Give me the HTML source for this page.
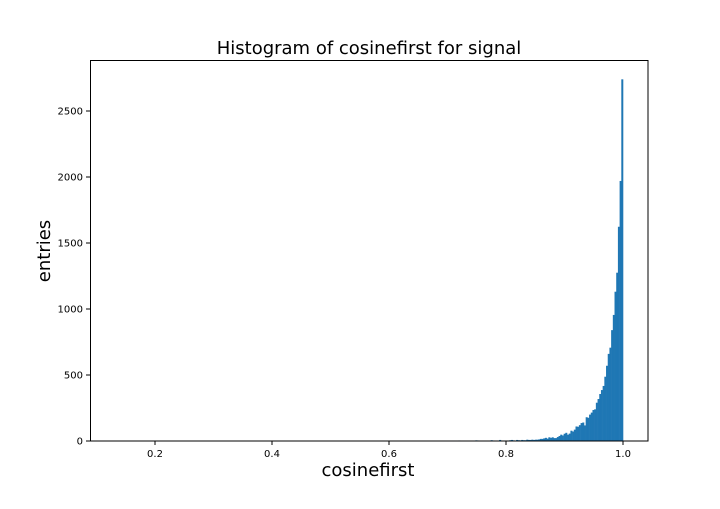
<!DOCTYPE html>
<html><head><meta charset="utf-8"><style>body{margin:0;background:#fff}svg{font-family:"DejaVu Sans","Liberation Sans",sans-serif}</style></head>
<body>
<svg id="c" width="720" height="504">
<rect width="720" height="504" fill="#fff"/>
<text x="369" y="54" text-anchor="middle" font-size="18">Histogram of cosinefirst for signal</text>
<text x="368" y="476" text-anchor="middle" font-size="18">cosinefirst</text>
<text transform="translate(50,251) rotate(-90)" text-anchor="middle" font-size="18">entries</text>
<g id="bars"></g>
<g id="ticks"></g>
<rect x="90.5" y="60.5" width="557.5" height="380.5" fill="none" stroke="#000" stroke-width="1"/>
</svg>
<script>
const binStart = 0.71;
const binWidth = 0.0029;
const counts = [0,0,3,4,0,0,0,0,0,0,0,0,0,5,4,0,0,2,0,0,0,0,6,4,0,0,3,8,0,0,3,0,0,6,8,5,0,8,6,5,8,6,6,10,8,8,10,
8,10,10,12,16,16,20,24,18,28,24,28,22,22,30,38,48,42,55,62,48,56,78,72,86,110,108,120,136,140,118,180,176,200,215,235,240,290,318,356,386,417,487,570,660,707,840,955,1131,1275,1623,1970,2740];
const xTicks = [0.2,0.4,0.6,0.8,1.0];
const xTickLabels = ["0.2","0.4","0.6","0.8","1.0"];
const yTicks = [0,500,1000,1500,2000,2500];
const yTickLabels = ["0","500","1000","1500","2000","2500"];
const NS="http://www.w3.org/2000/svg";
const X = v => 38 + v*585;
const Y = v => 441 - v*0.132;
const bars=document.getElementById('bars');
counts.forEach((c,i)=>{
  if(c<=0) return;
  const x0=X(binStart+i*binWidth), x1=X(binStart+(i+1)*binWidth);
  const r=document.createElementNS(NS,'rect');
  r.setAttribute('x',x0);r.setAttribute('width',x1-x0+0.3);
  r.setAttribute('y',Y(c));r.setAttribute('height',441-Y(c));
  r.setAttribute('fill','#1f77b4');
  
  
  bars.appendChild(r);
});
const tk=document.getElementById('ticks');
xTicks.forEach((v,i)=>{
  const l=document.createElementNS(NS,'line');
  l.setAttribute('x1',X(v));l.setAttribute('x2',X(v));l.setAttribute('y1',441);l.setAttribute('y2',445);l.setAttribute('stroke','#000');
  
  
  tk.appendChild(l);
  const t=document.createElementNS(NS,'text');
  t.setAttribute('x',X(v));t.setAttribute('y',457);t.setAttribute('text-anchor','middle');t.setAttribute('font-size','10');
  t.textContent=xTickLabels[i];
  
  
  tk.appendChild(t);
});
yTicks.forEach((v,i)=>{
  const l=document.createElementNS(NS,'line');
  l.setAttribute('x1',86);l.setAttribute('x2',90);l.setAttribute('y1',Y(v));l.setAttribute('y2',Y(v));l.setAttribute('stroke','#000');
  
  
  tk.appendChild(l);
  const t=document.createElementNS(NS,'text');
  t.setAttribute('x',83);t.setAttribute('y',Y(v)+3.5);t.setAttribute('text-anchor','end');t.setAttribute('font-size','10');
  t.textContent=yTickLabels[i];
  
  
  tk.appendChild(t);
});
</script>
</body></html>
